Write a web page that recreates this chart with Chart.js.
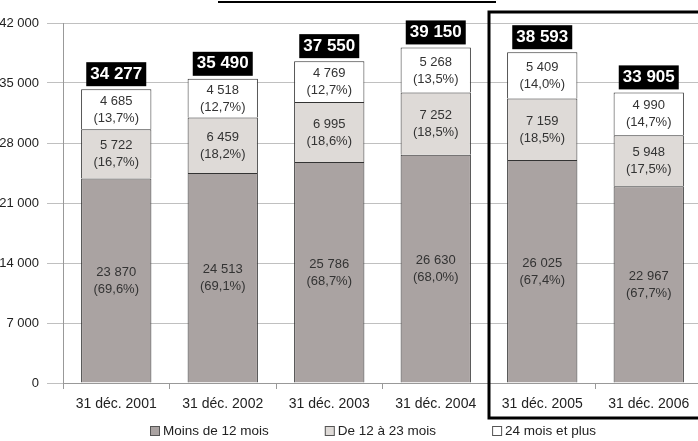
<!DOCTYPE html>
<html>
<head>
<meta charset="utf-8">
<script src="https://cdn.jsdelivr.net/npm/chart.js"></script>
<style>
html, body { margin: 0; padding: 0; background: #fff; overflow: hidden; }
#wrap { width: 702px; height: 441px; position: relative; }
</style>
</head>
<body>
<div id="wrap"><canvas id="chart"></canvas></div>
<script>
var categories = ['31 déc. 2001', '31 déc. 2002', '31 déc. 2003', '31 déc. 2004', '31 déc. 2005', '31 déc. 2006'];
var seriesNames = ['Moins de 12 mois', 'De 12 à 23 mois', '24 mois et plus'];
var moins12 = [23870, 24513, 25786, 26630, 26025, 22967];
var de12a23 = [5722, 6459, 6995, 7252, 7159, 5948];
var plus24 = [4685, 4518, 4769, 5268, 5409, 4990];
var pctMoins12 = ['69,6%', '69,1%', '68,7%', '68,0%', '67,4%', '67,7%'];
var pct12a23 = ['16,7%', '18,2%', '18,6%', '18,5%', '18,5%', '17,5%'];
var pctPlus24 = ['13,7%', '12,7%', '12,7%', '13,5%', '14,0%', '14,7%'];
var totals = [34277, 35490, 37550, 39150, 38593, 33905];
var yMax = 42000;
var yStep = 7000;

var pcts = [pctMoins12, pct12a23, pctPlus24];

function fmt(n){
  return String(n).replace(/\B(?=(\d{3})+(?!\d))/g, ' ');
}

// labels inside bars, totals, legend, frame
var decoPlugin = {
  id: 'deco',
  afterDatasetsDraw: function(chart){
    var ctx = chart.ctx;
    ctx.save();
    ctx.textAlign = 'center';
    ctx.textBaseline = 'middle';

    // values inside segments
    ctx.font = '13px "Liberation Sans", Arial, sans-serif';
    ctx.fillStyle = '#333';
    for(var d = 0; d < chart.data.datasets.length; d++){
      var meta = chart.getDatasetMeta(d);
      var ds = chart.data.datasets[d];
      for(var i = 0; i < meta.data.length; i++){
        var bar = meta.data[i];
        var mid = (bar.y + bar.base) / 2;
        ctx.fillText(fmt(ds.data[i]), bar.x, mid - 8);
        ctx.fillText('(' + pcts[d][i] + ')', bar.x, mid + 9);
      }
    }

    // totals in black boxes
    var top = chart.getDatasetMeta(chart.data.datasets.length - 1);
    ctx.font = 'bold 17px "Liberation Sans Narrow", "Liberation Sans", Arial, sans-serif';
    for(var i = 0; i < top.data.length; i++){
      var b = top.data[i];
      var txt = fmt(totals[i]);
      var w = ctx.measureText(txt).width + 8;
      ctx.fillStyle = '#000';
      ctx.fillRect(b.x - w / 2, b.y - 27, w, 24);
      ctx.fillStyle = '#fff';
      ctx.fillText(txt, b.x, b.y - 15);
    }

    // frame around 2005-2006
    var xs = chart.scales.x;
    var half = (xs.getPixelForValue(1) - xs.getPixelForValue(0)) / 2;
    var fx = xs.getPixelForValue(4) - half;
    ctx.strokeStyle = '#000';
    ctx.lineWidth = 3;
    ctx.strokeRect(fx, 12, chart.width + 20, 406);

    // underline of clipped title
    ctx.lineWidth = 2;
    ctx.beginPath();
    ctx.moveTo(218, 2);
    ctx.lineTo(496, 2);
    ctx.stroke();

    // legend
    ctx.font = '13.5px "Liberation Sans", Arial, sans-serif';
    ctx.textAlign = 'left';
    var lx = 150;
    var ly = 431;
    for(var d = 0; d < chart.data.datasets.length; d++){
      var c = chart.data.datasets[d];
      ctx.fillStyle = c.backgroundColor;
      ctx.fillRect(lx, ly - 5, 10, 10);
      ctx.strokeStyle = '#555';
      ctx.lineWidth = 1;
      ctx.strokeRect(lx + 0.5, ly - 4.5, 9, 9);
      ctx.fillStyle = '#222';
      ctx.fillText(c.label, lx + 13, ly);
      lx += 13 + ctx.measureText(c.label).width + 56;
    }
    ctx.restore();
  }
};

var chart = new Chart(document.getElementById('chart'), {
  type: 'bar',
  data: {
    labels: categories,
    datasets: [{
      label: seriesNames[0],
      data: moins12,
      backgroundColor: '#aaa3a2'
    }, {
      label: seriesNames[1],
      data: de12a23,
      backgroundColor: '#dedad7'
    }, {
      label: seriesNames[2],
      data: plus24,
      backgroundColor: '#ffffff'
    }]
  },
  options: {
    responsive: true,
    maintainAspectRatio: false,
    animation: false,
    datasets: {
      bar: {
        borderColor: '#333',
        borderWidth: 1,
        barPercentage: 0.66,
        categoryPercentage: 1
      }
    },
    layout: { padding: { top: 23, right: 0, bottom: 0, left: 0 } },
    plugins: {
      legend: { display: false },
      tooltip: { enabled: false }
    },
    scales: {
      x: {
        stacked: true,
        afterFit: function(s){ s.height = 58; },
        grid: { display: true, drawOnChartArea: false, tickLength: 6, color: '#999' },
        border: { display: true, color: '#999' },
        ticks: {
          color: '#222',
          padding: 7,
          font: { size: 14, family: '"Liberation Sans", Arial, sans-serif' }
        }
      },
      y: {
        stacked: true,
        min: 0,
        max: yMax,
        afterFit: function(s){ s.width = 63; },
        grid: { color: '#c0c0c0', tickLength: 16 },
        border: { display: true, color: '#999' },
        ticks: {
          stepSize: yStep,
          color: '#222',
          padding: 8,
          font: { size: 13, family: '"Liberation Sans", Arial, sans-serif' },
          callback: function(v){ return fmt(v); }
        }
      }
    }
  },
  plugins: [decoPlugin]
});
</script>
</body>
</html>
